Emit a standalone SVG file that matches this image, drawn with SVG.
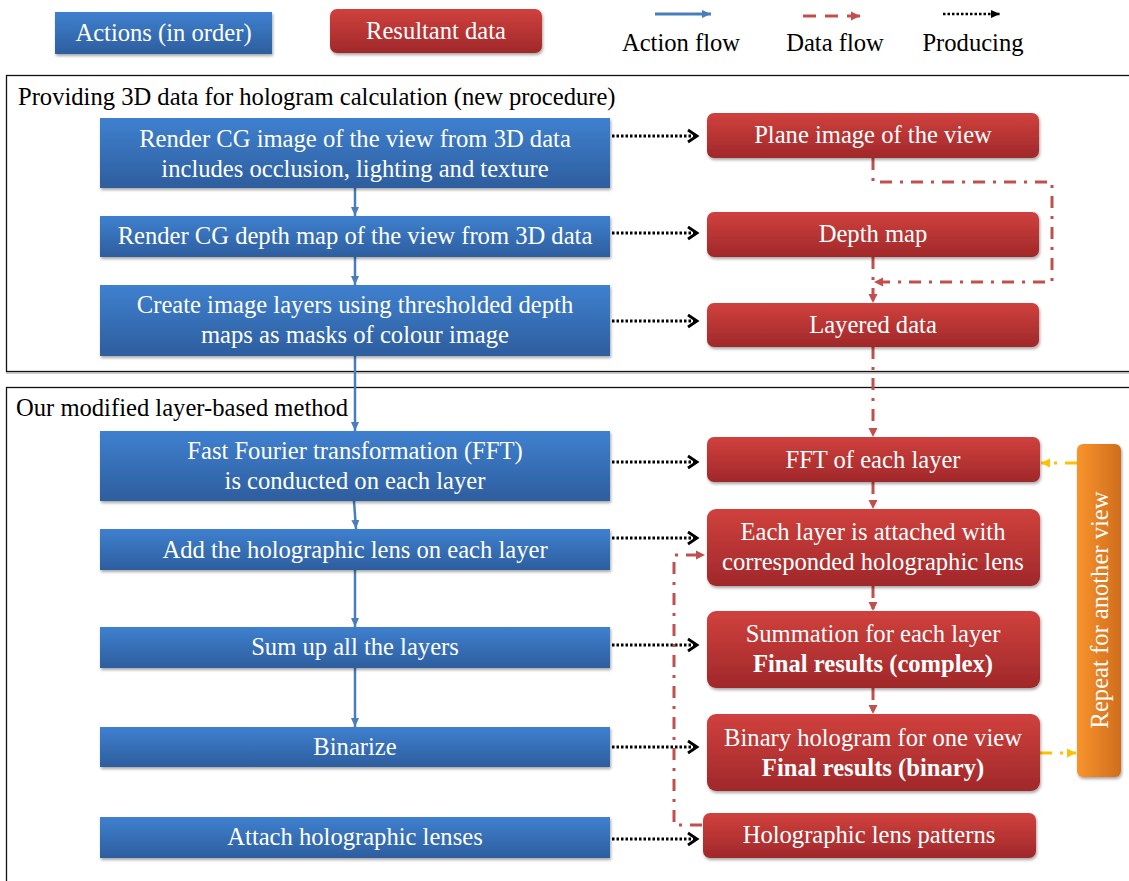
<svg xmlns="http://www.w3.org/2000/svg" width="1129" height="881" viewBox="0 0 1129 881">
<defs>
<linearGradient id="gb" x1="0" y1="0" x2="0" y2="1"><stop offset="0" stop-color="#3f80cf"/><stop offset="1" stop-color="#2d5e9e"/></linearGradient>
<linearGradient id="gr" x1="0" y1="0" x2="0" y2="1"><stop offset="0" stop-color="#d0413d"/><stop offset="1" stop-color="#a0282a"/></linearGradient>
<linearGradient id="go" x1="0" y1="0" x2="1" y2="0"><stop offset="0" stop-color="#f9942c"/><stop offset="1" stop-color="#cf6d1d"/></linearGradient>
<filter id="sh" x="-5%" y="-20%" width="110%" height="150%"><feDropShadow dx="1" dy="2" stdDeviation="1.5" flood-color="#000" flood-opacity="0.35"/></filter>
<marker id="ab" markerUnits="userSpaceOnUse" markerWidth="10" markerHeight="10" refX="9" refY="5" orient="auto"><path d="M0,1 L9,5 L0,9 z" fill="#4a7ebb"/></marker>
<marker id="ar" markerUnits="userSpaceOnUse" markerWidth="10" markerHeight="10" refX="9" refY="5" orient="auto"><path d="M0,0.5 L9,5 L0,9.5 z" fill="#c0504d"/></marker>
<marker id="ao" markerUnits="userSpaceOnUse" markerWidth="10" markerHeight="10" refX="9" refY="5" orient="auto"><path d="M0,0.5 L9,5 L0,9.5 z" fill="#ffc000"/></marker>
<marker id="ap" markerUnits="userSpaceOnUse" markerWidth="14" markerHeight="16" refX="11" refY="8" orient="auto"><path d="M2,2 L11,8 L2,14" fill="none" stroke="#000" stroke-width="2.8"/></marker>
<marker id="apl" markerUnits="userSpaceOnUse" markerWidth="10" markerHeight="10" refX="9" refY="5" orient="auto"><path d="M0,1 L9,5 L0,9 z" fill="#000"/></marker>
</defs>
<style>
text{font-family:'Liberation Serif','Times New Roman',serif;font-size:24.6px}
.t{fill:#fff;text-anchor:middle}
.k{fill:#000}
.b{font-weight:bold}
.nb{fill:url(#gb);filter:url(#sh)}
.nr{fill:url(#gr);filter:url(#sh)}
.act{stroke:#4a7ebb;stroke-width:2.5;fill:none;marker-end:url(#ab)}
.dat{stroke:#c0504d;stroke-width:3;fill:none;stroke-dasharray:12 8 3 8;marker-end:url(#ar)}
.org{stroke:#ffc000;stroke-width:3;fill:none;stroke-dasharray:12 8 3 8;marker-end:url(#ao)}
.prd{stroke:#000;stroke-width:3;fill:none;stroke-dasharray:2.5 2;marker-end:url(#ap)}
</style>
<rect width="1129" height="881" fill="#fff"/>

<g id="frames">
<rect x="6.5" y="75.5" width="1130" height="296" fill="none" stroke="#111" stroke-width="1.3"/>
<line x1="6" y1="373" x2="1129" y2="373" stroke="#999" stroke-width="1"/>
<text class="k" x="18" y="105">Providing 3D data for hologram calculation (new procedure)</text>
<rect x="6.5" y="387.5" width="1130" height="520" fill="none" stroke="#111" stroke-width="1.3"/>
<text class="k" x="16" y="416">Our modified layer-based method</text>
</g>

<g id="legend">
<rect class="nb" x="55" y="12" width="217" height="42"/>
<text class="t" x="163.5" y="41">Actions (in order)</text>
<rect class="nr" x="330" y="9" width="212" height="44" rx="7"/>
<text class="t" x="436" y="39">Resultant data</text>
<line x1="655" y1="14" x2="711" y2="14" stroke="#4a7ebb" stroke-width="3" marker-end="url(#ab)"/>
<line x1="803" y1="16" x2="860" y2="16" stroke="#c0504d" stroke-width="3" stroke-dasharray="13 9" marker-end="url(#ar)"/>
<line x1="943" y1="14" x2="1000" y2="14" stroke="#000" stroke-width="2.5" stroke-dasharray="2.5 2" marker-end="url(#apl)"/>
<text class="k" x="681" y="51" text-anchor="middle">Action flow</text>
<text class="k" x="835" y="51" text-anchor="middle">Data flow</text>
<text class="k" x="973" y="51" text-anchor="middle">Producing</text>
</g>

<g id="connectors">
<line class="act" x1="355" y1="188" x2="355" y2="216"/>
<line class="act" x1="355" y1="257" x2="355" y2="285"/>
<line class="act" x1="355" y1="356" x2="355" y2="431"/>
<line class="act" x1="354" y1="501" x2="356" y2="529"/>
<line class="act" x1="355" y1="570" x2="355" y2="627"/>
<line class="act" x1="355" y1="668" x2="355" y2="727"/>
<line class="prd" x1="612" y1="136" x2="697" y2="136"/>
<line class="prd" x1="612" y1="233" x2="697" y2="233"/>
<line class="prd" x1="612" y1="321" x2="697" y2="321"/>
<line class="prd" x1="612" y1="462" x2="697" y2="462"/>
<line class="prd" x1="612" y1="538" x2="697" y2="538"/>
<line class="prd" x1="612" y1="645" x2="697" y2="645"/>
<line class="prd" x1="612" y1="747" x2="697" y2="747"/>
<line class="prd" x1="612" y1="839" x2="697" y2="839"/>
<path class="dat" d="M873,158 V182 H1052 V282 H874"/>
<path class="dat" d="M873,257 V303"/>
<path class="dat" d="M873,347 V437"/>
<path class="dat" d="M873,482 V509"/>
<path class="dat" d="M873,586 V611"/>
<path class="dat" d="M873,688 V714"/>
<path class="dat" d="M702,825 H674 V555 H705"/>
<path class="org" d="M1077,463 H1041"/>
<path class="org" d="M1040,753 H1076"/>
</g>

<g id="n-render-cg-image"><rect class="nb" x="100" y="118" width="510" height="70"/><text class="t" x="355" y="147">Render CG image of the view from 3D data</text><text class="t" x="355" y="177">includes occlusion, lighting and texture</text></g>
<g id="n-render-depth"><rect class="nb" x="100" y="216" width="510" height="41"/><text class="t" x="355" y="244">Render CG depth map of the view from 3D data</text></g>
<g id="n-create-layers"><rect class="nb" x="100" y="285" width="510" height="71"/><text class="t" x="355" y="313">Create image layers using thresholded depth</text><text class="t" x="355" y="343">maps as masks of colour image</text></g>
<g id="n-fft"><rect class="nb" x="100" y="431" width="510" height="70"/><text class="t" x="355" y="459">Fast Fourier transformation (FFT)</text><text class="t" x="355" y="489">is conducted on each layer</text></g>
<g id="n-add-lens"><rect class="nb" x="100" y="529" width="510" height="41"/><text class="t" x="355" y="558">Add the holographic lens on each layer</text></g>
<g id="n-sum"><rect class="nb" x="100" y="627" width="510" height="41"/><text class="t" x="355" y="655">Sum up all the layers</text></g>
<g id="n-binarize"><rect class="nb" x="100" y="727" width="510" height="40"/><text class="t" x="355" y="755">Binarize</text></g>
<g id="n-attach"><rect class="nb" x="100" y="817" width="510" height="41"/><text class="t" x="355" y="845">Attach holographic lenses</text></g>

<g id="d-plane-image"><rect class="nr" x="707" y="113" width="332" height="45" rx="7"/><text class="t" x="873" y="143">Plane image of the view</text></g>
<g id="d-depth-map"><rect class="nr" x="707" y="212" width="332" height="45" rx="7"/><text class="t" x="873" y="242">Depth map</text></g>
<g id="d-layered"><rect class="nr" x="707" y="303" width="332" height="44" rx="7"/><text class="t" x="873" y="333">Layered data</text></g>
<g id="d-fft-layer"><rect class="nr" x="707" y="437" width="333" height="45" rx="7"/><text class="t" x="873" y="468">FFT of each layer</text></g>
<g id="d-each-layer"><rect class="nr" x="707" y="509" width="333" height="77" rx="9"/><text class="t" x="873" y="540">Each layer is attached with</text><text class="t" x="873" y="570">corresponded holographic lens</text></g>
<g id="d-summation"><rect class="nr" x="707" y="611" width="333" height="77" rx="9"/><text class="t" x="873" y="642">Summation for each layer</text><text class="t b" x="873" y="672">Final results (complex)</text></g>
<g id="d-binary"><rect class="nr" x="707" y="714" width="333" height="77" rx="9"/><text class="t" x="873" y="746">Binary hologram for one view</text><text class="t b" x="873" y="776">Final results (binary)</text></g>
<g id="d-lens-patterns"><rect class="nr" x="703" y="813" width="333" height="45" rx="7"/><text class="t" x="869" y="843">Holographic lens patterns</text></g>
<g id="n-repeat"><rect x="1077" y="444" width="44" height="333" rx="6" fill="url(#go)" filter="url(#sh)"/><text class="t" transform="translate(1108,610) rotate(-90)">Repeat for another view</text></g>
</svg>
